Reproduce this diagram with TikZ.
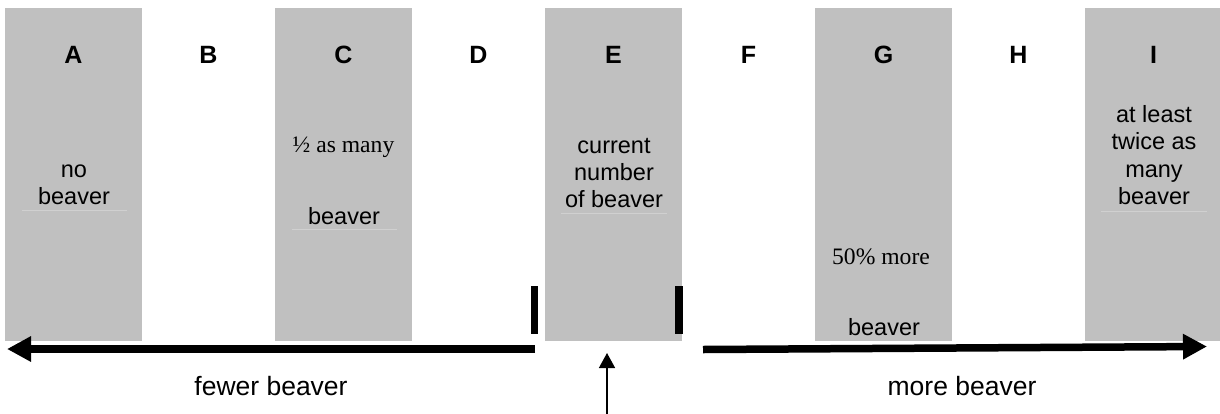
\documentclass[tikz,border=0pt]{standalone}
\usepackage{fontspec}
\setmainfont{Liberation Sans}
\newfontfamily\serifface{Liberation Serif}
\usetikzlibrary{arrows.meta}
\definecolor{boxgray}{HTML}{C0C0C0}
\definecolor{rulegray}{HTML}{D0D0D0}
\tikzset{
  column/.style={fill=boxgray, draw=none},
  letter/.style={anchor=base, inner sep=0pt, font=\fontsize{25}{28}\selectfont\bfseries},
  txt/.style={anchor=base, inner sep=0pt, font=\fontsize{23.5}{27}\selectfont},
  serif/.style={anchor=base, inner sep=0pt, font=\fontsize{23.6}{27}\selectfont\serifface},
  axis/.style={anchor=base, inner sep=0pt, font=\fontsize{26.5}{30}\selectfont},
  faint/.style={draw=rulegray, line width=0.7pt},
  marker/.style={fill=black, draw=none},
  bigarrow/.style={line width=7.5pt, -{Triangle[length=24pt,width=24pt]}},
  pointer/.style={line width=1.5pt, -{Triangle[length=15pt,width=16pt]}}
}
\begin{document}
\begin{tikzpicture}[x=1pt,y=-1pt]
\useasboundingbox (0,0) rectangle (1220,413);
\fill[white] (0,0) rectangle (1220,413);

% shaded columns
\fill[column] (5,8) rectangle (142,341);
\fill[column] (275,8) rectangle (412,341);
\fill[column] (545,8) rectangle (682,341);
\fill[column] (815,8) rectangle (952,341);
\fill[column] (1085,8) rectangle (1220,341);

% column letters
\node[letter] (lA) at (73.5,63) {A};
\node[letter] (lB) at (208.5,63) {B};
\node[letter] (lC) at (343.5,63) {C};
\node[letter] (lD) at (478.5,63) {D};
\node[letter] (lE) at (613.5,63) {E};
\node[letter] (lF) at (748.5,63) {F};
\node[letter] (lG) at (883.5,63) {G};
\node[letter] (lH) at (1018.5,63) {H};
\node[letter] (lI) at (1153.5,63) {I};

% column A
\node[txt] (a1) at (74,177) {no};
\node[txt] (a2) at (74,204) {beaver};
\draw[faint] (22,210) -- (127,210);

% column C
\node[serif] (c1) at (343.5,152) {½ as many};
\node[txt] (c2) at (344,224) {beaver};
\draw[faint] (292,229) -- (397,229);

% column E
\node[txt] (e1) at (614,153) {current};
\node[txt] (e2) at (614,180) {number};
\node[txt] (e3) at (614,207) {of beaver};
\draw[faint] (561,213) -- (667,213);

% column G
\node[serif] (g1) at (881,264) {50\% more};
\node[txt] (g2) at (884,335) {beaver};

% column I
\node[txt] (i1) at (1154,122) {at least};
\node[txt] (i2) at (1154,149) {twice as};
\node[txt] (i3) at (1154,177) {many};
\node[txt] (i4) at (1154,204) {beaver};
\draw[faint] (1101,211) -- (1207,211);

% bars bracketing the current value
\fill[marker] (530.5,286) rectangle (538,334);
\fill[marker] (675,286) rectangle (683,334);

% direction arrows
\coordinate (lstart) at (535,349);
\coordinate (lend) at (7,349);
\coordinate (rstart) at (703,349.5);
\coordinate (rend) at (1207,346.5);
\draw[bigarrow] (lstart) -- (lend);
\draw[bigarrow] (rstart) -- (rend);

% pointer to the current value
\coordinate (pbase) at (607,415);
\coordinate (ptip) at (607,353);
\draw[pointer] (pbase) -- (ptip);

% axis labels
\node[axis] (fewer) at (271,395) {fewer beaver};
\node[axis] (more) at (962,395) {more beaver};
\end{tikzpicture}
\end{document}
